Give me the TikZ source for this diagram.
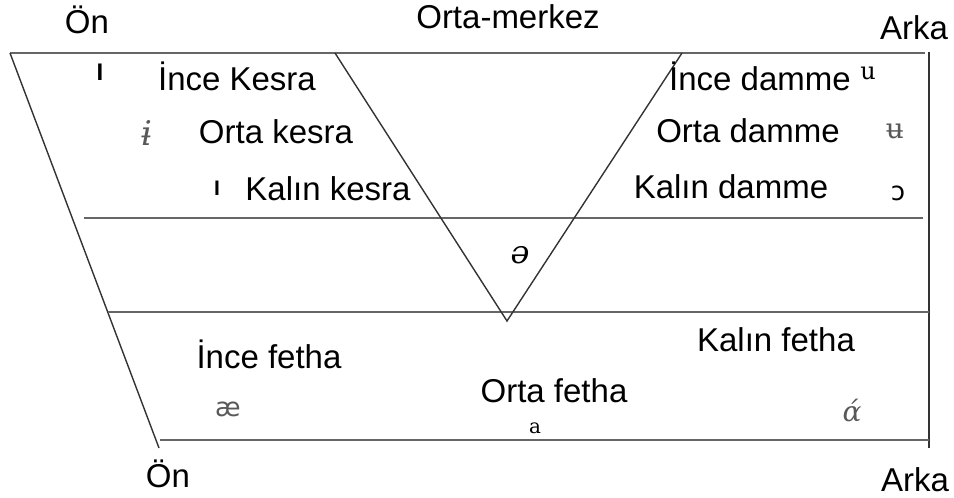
\documentclass[tikz,border=0pt]{standalone}
\usepackage{fontspec}
\setmainfont{Liberation Sans}
\newfontfamily\ipaserif{DejaVu Serif}
\newfontfamily\ipasans{DejaVu Sans}
\begin{document}
\begin{tikzpicture}[x=1pt,y=-1pt,
  lbl/.style={font=\fontsize{33}{36}\selectfont, inner sep=0pt},
  sym/.style={inner sep=0pt, text=black!65},
  frame/.style={line width=1.4pt, draw=black!80},
  grid/.style={line width=1.2pt, draw=black!60}]
\useasboundingbox (0,0) rectangle (954,498);
% corner coordinates
\coordinate (tl) at (10,53);
\coordinate (tr) at (925,53);
\coordinate (bl) at (159,448);
\coordinate (rt) at (929,52);
\coordinate (rb) at (929,448);
\coordinate (bls) at (160,440);
\coordinate (brs) at (929,440);
\coordinate (m1l) at (84,218);
\coordinate (m1r) at (923,218);
\coordinate (m2l) at (108,312);
\coordinate (m2r) at (929,312);
\coordinate (va) at (335,53);
\coordinate (vb) at (507,321);
\coordinate (vc) at (682,53);
% lines
\draw[grid] (tl) -- (tr);
\draw[frame] (tl) -- (bl);
\draw[frame] (rt) -- (rb);
\draw[grid] (bls) -- (brs);
\draw[grid] (m1l) -- (m1r);
\draw[grid] (m2l) -- (m2r);
\draw[frame] (va) -- (vb) -- (vc);
% labels
\node[lbl] (onT) at (87,20) {Ön};
\node[lbl] (om) at (508,17) {Orta-merkez};
\node[lbl] (arT) at (914,28) {Arka};
\node[lbl] (onB) at (168,474) {Ön};
\node[lbl] (arB) at (915,480) {Arka};
\node[lbl] (ik) at (237,76) {İnce Kesra};
\node[lbl] (ok) at (276,132) {Orta kesra};
\node[lbl] (kk) at (328,189) {Kalın kesra};
\node[lbl] (id) at (760,76) {İnce damme};
\node[lbl] (od) at (748,131) {Orta damme};
\node[lbl] (kd) at (731,187) {Kalın damme};
\node[lbl] (if) at (269,354) {İnce fetha};
\node[lbl] (kf) at (776,340) {Kalın fetha};
\node[lbl] (of) at (554,391) {Orta fetha};
% symbols
\node[inner sep=0pt, font=\bfseries\fontsize{24}{26}\selectfont] (s1) at (100,72) {I};
\node[sym, font=\ipaserif\itshape\fontsize{34}{36}\selectfont] (s2) at (147,133) {ɨ};
\node[inner sep=0pt, font=\bfseries\fontsize{21}{23}\selectfont] (s3) at (217,188) {I};
\node[sym, text=black, font=\ipaserif\fontsize{24}{26}\selectfont] (s4) at (868,73) {u};
\node[sym, font=\ipaserif\fontsize{28}{30}\selectfont] (s5) at (895,131) {ʉ};
\node[sym, text=black, font=\ipasans\fontsize{26}{28}\selectfont] (s6) at (898,193) {ɔ};
\node[sym, text=black, font=\ipaserif\itshape\fontsize{32}{34}\selectfont] (s7) at (520,255) {ə};
\node[sym, font=\ipasans\fontsize{26}{28}\selectfont] (s8) at (228,409) {æ};
\node[sym, text=black, font=\ipaserif\fontsize{20}{22}\selectfont] (s9) at (535,428) {a};
\node[sym, font=\ipaserif\itshape\fontsize{28}{30}\selectfont] (s10) at (852,410) {ά};
\end{tikzpicture}
\end{document}
